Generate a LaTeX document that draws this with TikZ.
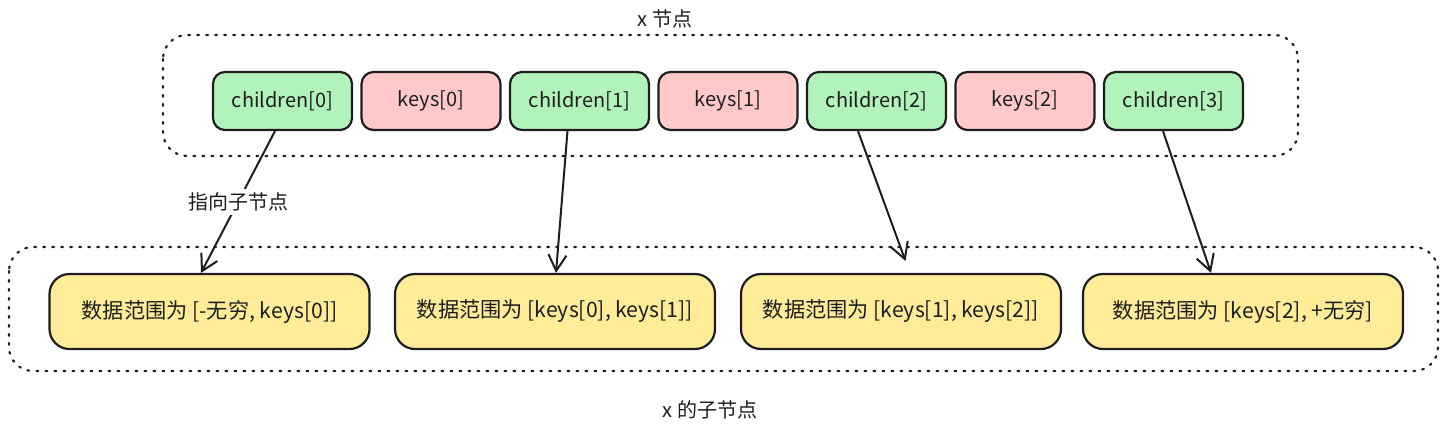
\documentclass[tikz,border=0pt]{standalone}
\usepackage{fontspec}
\setmainfont{Noto Sans CJK SC}
\usetikzlibrary{arrows.meta}
\definecolor{childgreen}{HTML}{B2F2BB}
\definecolor{keypink}{HTML}{FFC9C9}
\definecolor{rangeyellow}{HTML}{FFEC99}
\definecolor{ink}{HTML}{1E1E1E}
\begin{document}
\begin{tikzpicture}[x=0.5pt, y=-0.5pt, font=\fontsize{10}{12}\selectfont, text=ink,
	slotbox/.style={draw=ink, line width=1.1pt, rounded corners=6pt, minimum width=69.5pt, minimum height=29pt, inner sep=0pt},
	rangebox/.style={draw=ink, line width=1.1pt, fill=rangeyellow, rounded corners=10pt, minimum width=160pt, minimum height=37.5pt, inner sep=0pt, font=\fontsize{10.6}{12}\selectfont},
	groupbox/.style={draw=ink, line width=1.1pt, dash pattern=on 0.9pt off 3.6pt, line cap=round, rounded corners=12pt},
	link/.style={draw=ink, line width=1pt, -{Straight Barb[length=8pt, width=9pt]}}]
		\useasboundingbox (0,0) rectangle (1447,434);
		% dotted groups
		\draw[groupbox] (163,35) rectangle (1298,156);
		\draw[groupbox] (9,247) rectangle (1438,371);
		\node (toplabel) at (665,19) {x 节点};
		\node (bottomlabel) at (710,410) {x 的子节点};
		% x node
		\foreach \i/\name/\txt/\col in {0/c0/children[0]/childgreen, 1/k0/keys[0]/keypink, 2/c1/children[1]/childgreen, 3/k1/keys[1]/keypink, 4/c2/children[2]/childgreen, 5/k2/keys[2]/keypink, 6/c3/children[3]/childgreen}{
			\node[slotbox, fill = \col] (\name) at ({282.5 + 148.5 * \i}, 101) {\txt};}
		% children
		\foreach \x/\name/\txt in {{209.5/r0/数据范围为 [-无穷, keys[0]]}, {555/r1/数据范围为 [keys[0], keys[1]]}, {901/r2/数据范围为 [keys[1], keys[2]]}, {1243/r3/数据范围为 [keys[2], +无穷]}}{
			\node[rangebox] (\name) at (\x, 311.5) {\txt};}
		\draw[link] ([xshift=-3.75pt]c0.south) -- node[fill=white, inner sep=2pt] (pointlabel) {指向子节点} ([xshift=-4.25pt]r0.north);
		\draw[link] ([xshift=-6pt]c1.south) -- ([xshift=0.5pt]r1.north);
		\draw[link] ([xshift=-9.25pt]c2.south) -- ([xshift=2.25pt, yshift=6pt]r2.north);
		\draw[link] ([xshift=-5.25pt]c3.south) -- ([xshift=-16pt]r3.north);
\end{tikzpicture}
\end{document}
